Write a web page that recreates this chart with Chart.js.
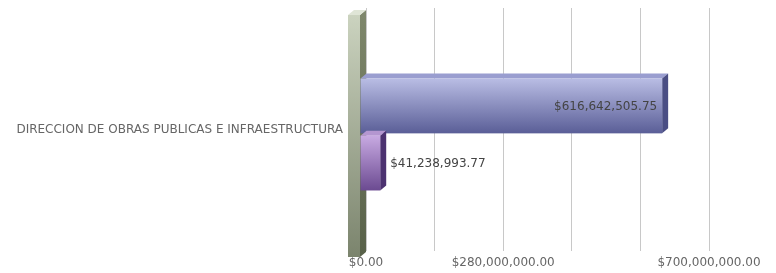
<!DOCTYPE html>
<html>
<head>
<meta charset="utf-8">
<script src="https://cdn.jsdelivr.net/npm/chart.js@4/dist/chart.umd.min.js"></script>
<style>
html,body{margin:0;padding:0;background:#fff;}
#wrap{position:relative;width:776px;height:273px;}
</style>
</head>
<body>
<div id="wrap"><canvas id="c" width="776" height="273"></canvas></div>
<script>
const categories = ["DIRECCION DE OBRAS PUBLICAS E INFRAESTRUCTURA"];
const seriesA = [616642505.75];
const seriesB = [41238993.77];
const tickLabels = {0: "$0.00", 280000000: "$280,000,000.00", 700000000: "$700,000,000.00"};

const DX = -6, DY = 5;
const FONT = "'DejaVu Sans', Verdana, sans-serif";
const fmt = v => "$" + v.toLocaleString("en-US", {minimumFractionDigits: 2, maximumFractionDigits: 2});

const styles = [
  {top: "#b9bde4", bottom: "#5a5e97", topFace: "#9a9ed0", side: "#4a4e84", label: "inside"},
  {top: "#c8aae2", bottom: "#6b4a91", topFace: "#b496d0", side: "#4c3270", label: "outside"}
];

const threeD = {
  id: "threeD",
  beforeDatasetsDraw(chart) {
    const ctx = chart.ctx, ca = chart.chartArea;
    const zx = chart.scales.x.getPixelForValue(0);
    const fr = zx + DX, fl = fr - 12;
    const ft = ca.top + 2 + DY, fb = ca.bottom + 1 + DY;
    ctx.save();
    let g = ctx.createLinearGradient(0, ft, 0, fb);
    g.addColorStop(0, "#cbd3bf"); g.addColorStop(1, "#7b846d");
    ctx.fillStyle = g; ctx.fillRect(fl, ft, fr - fl, fb - ft);
    g = ctx.createLinearGradient(0, ft, 0, fb);
    g.addColorStop(0, "#7e876b"); g.addColorStop(1, "#586149");
    ctx.fillStyle = g;
    ctx.beginPath(); ctx.moveTo(fr, ft); ctx.lineTo(fr - DX, ft - DY); ctx.lineTo(fr - DX, fb - DY); ctx.lineTo(fr, fb); ctx.closePath(); ctx.fill();
    ctx.fillStyle = "#dfe5d6";
    ctx.beginPath(); ctx.moveTo(fl, ft); ctx.lineTo(fl - DX, ft - DY); ctx.lineTo(fr - DX, ft - DY); ctx.lineTo(fr, ft); ctx.closePath(); ctx.fill();
    ctx.restore();
  },
  afterDatasetsDraw(chart) {
    const ctx = chart.ctx;
    ctx.save();
    chart.data.datasets.forEach((ds, di) => {
      const st = styles[di];
      chart.getDatasetMeta(di).data.forEach((el, i) => {
        const p = el.getProps(["x", "y", "base", "height"], true);
        const x0 = p.base + DX, x1 = p.x + DX;
        const y0 = p.y - p.height / 2 + DY, y1 = p.y + p.height / 2 + DY;
        ctx.fillStyle = st.topFace;
        ctx.beginPath(); ctx.moveTo(x0, y0); ctx.lineTo(x0 - DX, y0 - DY); ctx.lineTo(x1 - DX, y0 - DY); ctx.lineTo(x1, y0); ctx.closePath(); ctx.fill();
        ctx.fillStyle = st.side;
        ctx.beginPath(); ctx.moveTo(x1, y0); ctx.lineTo(x1 - DX, y0 - DY); ctx.lineTo(x1 - DX, y1 - DY); ctx.lineTo(x1, y1); ctx.closePath(); ctx.fill();
        const g = ctx.createLinearGradient(0, y0, 0, y1);
        g.addColorStop(0, st.top); g.addColorStop(1, st.bottom);
        ctx.fillStyle = g; ctx.fillRect(x0, y0, x1 - x0, y1 - y0);
        ctx.fillStyle = "#444";
        ctx.font = "12px " + FONT;
        ctx.textBaseline = "middle";
        const txt = fmt(ds.data[i]);
        const cy = (y0 + y1) / 2 + 1;
        if (st.label === "inside") { ctx.textAlign = "right"; ctx.fillText(txt, x1 - 5, cy); }
        else { ctx.textAlign = "left"; ctx.fillText(txt, x1 + 10, cy); }
      });
    });
    ctx.restore();
  }
};

const pad = {top: 8, right: 67, left: 0, bottom: 0};
const chart = new Chart(document.getElementById("c"), {
  type: "bar",
  data: {
    labels: categories,
    datasets: [
      {data: seriesA, backgroundColor: "rgba(0,0,0,0)", categoryPercentage: 0.47, barPercentage: 0.96},
      {data: seriesB, backgroundColor: "rgba(0,0,0,0)", categoryPercentage: 0.47, barPercentage: 0.96}
    ]
  },
  options: {
    indexAxis: "y",
    responsive: false,
    animation: false,
    layout: {padding: pad},
    plugins: {legend: {display: false}, tooltip: {enabled: false}},
    scales: {
      x: {
        min: 0, max: 700000000,
        border: {display: false},
        grid: {color: "#c8c8c8", drawTicks: false, lineWidth: 1},
        ticks: {
          stepSize: 140000000, autoSkip: false, maxRotation: 0, padding: 5,
          color: "#666", font: {family: FONT, size: 12},
          callback: v => tickLabels[v] !== undefined ? tickLabels[v] : ""
        }
      },
      y: {
        border: {display: false},
        grid: {display: false, drawTicks: true, tickLength: 23},
        ticks: {color: "#666", font: {family: FONT, size: 12}, padding: 0},
        afterFit(s) { s.width = 366; }
      }
    }
  },
  plugins: [threeD]
});
const TARGET_TOP = 8, TARGET_BOTTOM = 251, TARGET_LEFT = 366, TARGET_RIGHT = 709;
for (let k = 0; k < 4; k++) {
  const a = chart.chartArea;
  const dt = TARGET_TOP - a.top, db = a.bottom - TARGET_BOTTOM, dr = a.right - TARGET_RIGHT, dl = TARGET_LEFT - a.left;
  if (Math.abs(dt) < 0.5 && Math.abs(db) < 0.5 && Math.abs(dr) < 0.5 && Math.abs(dl) < 0.5) break;
  pad.top += dt; pad.bottom += db; pad.right += dr; pad.left += dl;
  chart.options.layout.padding = {...pad};
  chart.update("none");
}
</script>
</body>
</html>
